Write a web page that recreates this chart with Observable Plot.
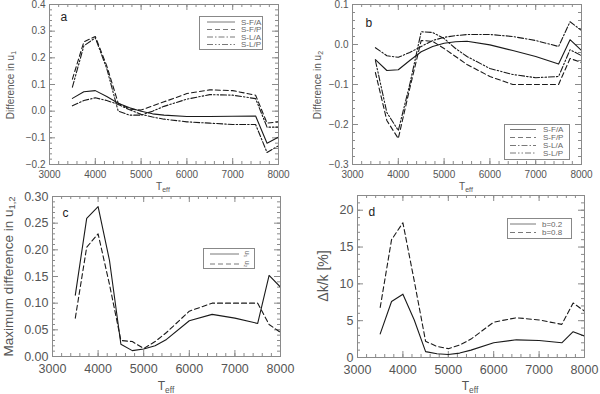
<!DOCTYPE html>
<html>
<head>
<meta charset="utf-8">
<script src="https://cdn.jsdelivr.net/npm/d3@7"></script>
<script src="https://cdn.jsdelivr.net/npm/@observablehq/plot@0.6"></script>
<style>
  html, body { margin: 0; padding: 0; background: #fff; }
  #wrap { position: relative; width: 600px; height: 394px; overflow: hidden; font-family: "Liberation Sans", "DejaVu Sans", sans-serif; color: #555; }
  #wrap > svg, .abs { position: absolute; }
  .ylab { position: absolute; transform-origin: center center; white-space: nowrap; color: #555; }
  .xlab { position: absolute; white-space: nowrap; color: #555; transform: translateX(-50%); }
  .legend { position: absolute; border: 1px solid #888; box-sizing: border-box; background: #fff; }
  .legend svg { position: absolute; left: 0; top: 0; }
  sub { font-size: 70%; vertical-align: -0.3em; }
</style>
</head>
<body>
<div id="wrap"></div>
<script>
// ---------------- data ----------------
const teff = [3500, 3750, 4000, 4250, 4500, 4750, 5000, 5250, 5500, 6000, 6500, 7000, 7500, 7750, 8000];

// panel a: difference in u1
const aSFA = [0.048, 0.073, 0.077, 0.055, 0.030, 0.013, 0.000, -0.010, -0.015, -0.020, -0.020, -0.019, -0.018, -0.120, -0.097];
const aSFP = [0.120, 0.260, 0.280, 0.170, 0.030, 0.008, 0.004, 0.020, 0.035, 0.066, 0.080, 0.077, 0.060, -0.045, -0.040];
const aSLA = [0.020, 0.040, 0.050, 0.040, 0.025, 0.005, -0.012, -0.022, -0.030, -0.040, -0.045, -0.050, -0.050, -0.155, -0.130];
const aSLP = [0.090, 0.245, 0.275, 0.160, 0.000, -0.015, -0.015, 0.000, 0.018, 0.045, 0.062, 0.060, 0.047, -0.060, -0.060];

// panel b: difference in u2
const bSFA = [-0.038, -0.065, -0.063, -0.040, -0.018, -0.005, 0.003, 0.007, 0.008, -0.001, -0.015, -0.030, -0.049, 0.012, -0.015];
const bSFP = [-0.070, -0.190, -0.235, -0.110, 0.010, 0.008, -0.010, -0.030, -0.050, -0.080, -0.100, -0.100, -0.100, -0.035, -0.045];
const bSLA = [-0.008, -0.028, -0.032, -0.020, -0.005, 0.010, 0.018, 0.022, 0.025, 0.025, 0.020, 0.010, -0.005, 0.057, 0.035];
const bSLP = [-0.040, -0.170, -0.215, -0.100, 0.032, 0.030, 0.015, -0.010, -0.030, -0.060, -0.075, -0.083, -0.080, -0.013, -0.028];

// panel c: maximum difference in u1, u2
const cU1 = [0.115, 0.259, 0.281, 0.180, 0.023, 0.011, 0.014, 0.020, 0.032, 0.067, 0.079, 0.072, 0.062, 0.152, 0.130];
const cU2 = [0.072, 0.205, 0.230, 0.135, 0.030, 0.028, 0.015, 0.028, 0.045, 0.085, 0.100, 0.100, 0.100, 0.060, 0.045];

// panel d: delta k / k [%]
const dB02 = [3.2, 7.6, 8.6, 5.1, 0.8, 0.5, 0.4, 0.6, 1.0, 2.0, 2.4, 2.3, 2.0, 3.5, 2.9];
const dB08 = [6.8, 16.0, 18.3, 10.4, 2.2, 1.5, 1.2, 1.7, 2.5, 4.8, 5.4, 5.1, 4.5, 7.4, 6.3];

const xTicks = [3000, 4000, 5000, 6000, 7000, 8000];
const aTicks = [-0.2, -0.1, 0.0, 0.1, 0.2, 0.3, 0.4];
const bTicks = [-0.3, -0.2, -0.1, 0.0, 0.1];
const cTicks = [0.00, 0.05, 0.10, 0.15, 0.20, 0.25, 0.30];
const dTicks = [0, 5, 10, 15, 20];

const namesAB = ["S-F/A", "S-F/P", "S-L/A", "S-L/P"];
const namesC = ["u\u2081", "u\u2082"];
const namesD = ["b=0.2", "b=0.8"];

// ---------------- styles ----------------
const DASH = [null, "5,3", "6,2,1.5,2", "6,2,1.5,2,1.5,2"];
const LINE = "#1a1a1a";
const AX = "#8a8a8a";

function range(a, b, s) { const r = []; for (let v = a; v <= b + s * 1e-6; v += s) r.push(+v.toFixed(6)); return r; }

function panel({left, top, width, height, mL, mR, mT, mB, yDomain, yTicks, yMinorStep, fmt, fontSize, xPad, series, letter, letterDx, letterDy}) {
  const innerW = width - mL - mR, innerH = height - mT - mB;
  const xMinor = range(3000, 8000, 200);
  const yMinor = range(yDomain[0], yDomain[1], yMinorStep);
  const marks = [];
  // minor ticks (inward, all four sides)
  marks.push(Plot.tickX(xMinor, {x: d => d, insetTop: innerH - 3, stroke: AX}));
  marks.push(Plot.tickX(xMinor, {x: d => d, insetBottom: innerH - 3, stroke: AX}));
  marks.push(Plot.tickY(yMinor, {y: d => d, insetRight: innerW - 3, stroke: AX}));
  marks.push(Plot.tickY(yMinor, {y: d => d, insetLeft: innerW - 3, stroke: AX}));
  // major ticks
  marks.push(Plot.tickX(xTicks, {x: d => d, insetTop: innerH - 6, stroke: AX}));
  marks.push(Plot.tickX(xTicks, {x: d => d, insetBottom: innerH - 6, stroke: AX}));
  marks.push(Plot.tickY(yTicks, {y: d => d, insetRight: innerW - 6, stroke: AX}));
  marks.push(Plot.tickY(yTicks, {y: d => d, insetLeft: innerW - 6, stroke: AX}));
  marks.push(Plot.frame({stroke: AX}));
  marks.push(Plot.axisX({ticks: xTicks, tickSize: 0, tickPadding: xPad, tickFormat: d => String(d), label: null, fontSize, fill: "#555"}));
  marks.push(Plot.axisY({ticks: yTicks, tickSize: 0, tickPadding: 4, tickFormat: fmt, label: null, fontSize, fill: "#555"}));
  series.forEach((vals, i) => {
    marks.push(Plot.line(teff.map((t, j) => ({t, v: vals[j]})), {x: "t", y: "v", stroke: LINE, strokeWidth: 1.1, strokeDasharray: DASH[i], clip: true}));
  });
  marks.push(Plot.text([letter], {frameAnchor: "top-left", text: d => d, dx: letterDx, dy: letterDy, fontSize: 12, fill: "#222"}));
  const svg = Plot.plot({
    width, height, marginLeft: mL, marginRight: mR, marginTop: mT, marginBottom: mB,
    x: {domain: [3000, 8000]}, y: {domain: yDomain},
    style: {fontFamily: '"Liberation Sans", "DejaVu Sans", sans-serif', background: "transparent", color: "#555", overflow: "visible"},
    marks
  });
  svg.style.left = left + "px";
  svg.style.top = top + "px";
  return svg;
}

const wrap = document.getElementById("wrap");

wrap.appendChild(panel({left: 0, top: 0, width: 300, height: 197, mL: 49, mR: 22, mT: 4, mB: 33,
  yDomain: [-0.2, 0.4], yTicks: aTicks, yMinorStep: 0.02, fmt: d3.format(".1f"), fontSize: 10, xPad: 6,
  series: [aSFA, aSFP, aSLA, aSLP], letter: "a", letterDx: 11, letterDy: 8}));
wrap.appendChild(panel({left: 300, top: 0, width: 300, height: 197, mL: 52, mR: 19, mT: 4, mB: 33,
  yDomain: [-0.3, 0.1], yTicks: bTicks, yMinorStep: 0.02, fmt: d3.format(".1f"), fontSize: 10, xPad: 6,
  series: [bSFA, bSFP, bSLA, bSLP], letter: "b", letterDx: 13, letterDy: 14}));
wrap.appendChild(panel({left: 0, top: 192, width: 300, height: 202, mL: 52, mR: 20, mT: 4, mB: 38,
  yDomain: [0, 0.30], yTicks: cTicks, yMinorStep: 0.01, fmt: d3.format(".2f"), fontSize: 12.5, xPad: 8,
  series: [cU1, cU2], letter: "c", letterDx: 10, letterDy: 12}));
wrap.appendChild(panel({left: 300, top: 192, width: 300, height: 202, mL: 57, mR: 16, mT: 3, mB: 37,
  yDomain: [0, 22], yTicks: dTicks, yMinorStep: 1, fmt: d3.format("d"), fontSize: 12.5, xPad: 8,
  series: [dB02, dB08], letter: "d", letterDx: 11, letterDy: 12}));

// ---------------- axis titles ----------------
function addHTML(cls, html, css) {
  const el = document.createElement("div");
  el.className = cls;
  el.innerHTML = html;
  Object.assign(el.style, css);
  wrap.appendChild(el);
  return el;
}
function yTitle(html, cx, cy, size) {
  const el = addHTML("ylab", html, {fontSize: size + "px"});
  const w = el.offsetWidth, h = el.offsetHeight;
  el.style.left = (cx - w / 2) + "px";
  el.style.top = (cy - h / 2) + "px";
  el.style.transform = "rotate(-90deg)";
}
yTitle("Difference in u<sub>1</sub>", 11, 85, 10);
yTitle("Difference in u<sub>2</sub>", 318, 85, 10);
yTitle("Maximum difference in u<sub>1,2</sub>", 9, 276, 13.5);
yTitle("\u0394k/k [%]", 322, 276, 14);

addHTML("xlab", "T<sub>eff</sub>", {left: "163px", top: "181px", fontSize: "10px"});
addHTML("xlab", "T<sub>eff</sub>", {left: "466px", top: "181px", fontSize: "10px"});
addHTML("xlab", "T<sub>eff</sub>", {left: "166px", top: "379px", fontSize: "12px"});
addHTML("xlab", "T<sub>eff</sub>", {left: "470px", top: "379px", fontSize: "12px"});

// ---------------- legends ----------------
function legend(x, y, w, h, names, rows, lx0, lx1, tx, fs, rotate) {
  const box = addHTML("legend", "", {left: x + "px", top: y + "px", width: w + "px", height: h + "px"});
  const svg = d3.create("svg").attr("width", w).attr("height", h);
  names.forEach((n, i) => {
    svg.append("line").attr("x1", lx0).attr("x2", lx1).attr("y1", rows[i]).attr("y2", rows[i])
      .attr("stroke", "#555").attr("stroke-width", 0.8).attr("stroke-dasharray", DASH[i]);
    const t = svg.append("text").attr("x", tx).attr("y", rows[i]).attr("dy", "0.35em")
      .attr("font-size", fs).attr("fill", "#666")
      .attr("font-family", '"Liberation Sans", "DejaVu Sans", sans-serif').text(n);
    if (rotate) t.attr("transform", `rotate(90 ${tx + 3} ${rows[i]})`).attr("text-anchor", "middle").attr("x", tx + 3).attr("dy", "0.35em");
  });
  box.appendChild(svg.node());
}
legend(199, 16, 64, 34, namesAB, [5, 12.5, 20, 27.5], 7, 35, 41, 8, false);
legend(504, 124, 66, 36, namesAB, [4.5, 12.5, 20.5, 28], 5, 31, 38, 8, false);
legend(203, 248, 52, 21, namesC, [5, 15], 6, 35, 40, 7, true);
legend(507, 218, 65, 21, namesD, [5, 13.5], 2, 28, 34, 8, false);
</script>
</body>
</html>
